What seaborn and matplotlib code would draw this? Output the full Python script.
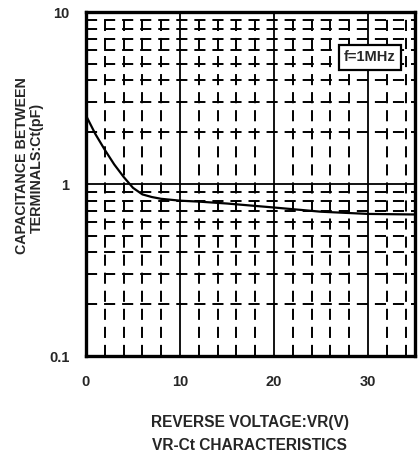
import matplotlib
matplotlib.use("Agg")
import matplotlib.pyplot as plt
import matplotlib.ticker as mticker
import seaborn as sns
import pandas as pd

# Data
vr = [0, 1, 2, 3, 4, 5, 6, 7, 8, 10, 12, 15, 20, 25, 30, 35]
ct = [2.5, 1.95, 1.58, 1.30, 1.10, 0.95, 0.87, 0.84, 0.82, 0.80, 0.79, 0.77, 0.73, 0.69, 0.67, 0.665]
x_major = [0, 10, 20, 30]
x_major_labels = ["0", "10", "20", "30"]
y_major = [0.1, 1, 10]
y_major_labels = ["0.1", "1", "10"]
ylabel_lines = ["CAPACITANCE BETWEEN", "TERMINALS:Ct(pF)"]
xlabel_lines = ["REVERSE VOLTAGE:VR(V)", "VR-Ct CHARACTERISTICS"]
note = "f=1MHz"

sns.set_style("white")
plt.rcParams['font.family'] = ['Liberation Sans', 'DejaVu Sans']
plt.rcParams['lines.scale_dashes'] = False

df = pd.DataFrame({"VR": vr, "Ct": ct})

fig = plt.figure(figsize=(4.18, 4.55), dpi=100)
ax = fig.add_axes([86/418, 1 - 356/455, (415-86)/418, (356-12)/455])

sns.lineplot(data=df, x="VR", y="Ct", ax=ax, color="black", linewidth=1.6, zorder=4)

ax.set_yscale("log")
ax.set_xlim(0, 35)
ax.set_ylim(0.1, 10)

ax.set_xticks(x_major)
ax.set_xticklabels(x_major_labels)
ax.set_xticks([v for v in range(2, 35, 2) if v % 10 != 0], minor=True)
ax.yaxis.set_major_locator(mticker.FixedLocator(y_major))
ax.set_yticklabels(y_major_labels)
ax.yaxis.set_minor_locator(mticker.LogLocator(base=10, subs=range(2, 10)))
ax.yaxis.set_minor_formatter(mticker.NullFormatter())

ax.grid(which="major", color="black", linewidth=1.3, linestyle="-")
ax.grid(which="minor", color="black", linewidth=1.4, linestyle=(0, (8, 5)))

ax.tick_params(which="both", length=0)
ax.tick_params(axis="x", pad=14, labelsize=10.5)
ax.tick_params(axis="y", pad=12, labelsize=10.5)
for lab in ax.get_xticklabels() + ax.get_yticklabels():
    lab.set_fontweight("bold")

for sp in ax.spines.values():
    sp.set_visible(True)
    sp.set_color("black")
    sp.set_linewidth(2.4)

ax.set_xlabel("")
ax.set_ylabel("")

fig.text(22/418, 1 - 166/455, ylabel_lines[0], rotation=90, ha="center", va="center",
         fontsize=10.3, fontweight="bold")
fig.text(37/418, 1 - 168/455, ylabel_lines[1], rotation=90, ha="center", va="center",
         fontsize=10.3, fontweight="bold")
fig.text(250/418, 1 - 422/455, xlabel_lines[0], ha="center", va="center",
         fontsize=11.2, fontweight="bold")
fig.text(250/418, 1 - 446/455, xlabel_lines[1], ha="center", va="center",
         fontsize=11.2, fontweight="bold")

ax.text(0.863, 0.868, note, transform=ax.transAxes, ha="center", va="center",
        fontsize=10.5, fontweight="bold", zorder=5,
        bbox=dict(boxstyle="square,pad=0.35", fc="white", ec="black", lw=1.6))

fig.savefig("out.png", dpi=100)
